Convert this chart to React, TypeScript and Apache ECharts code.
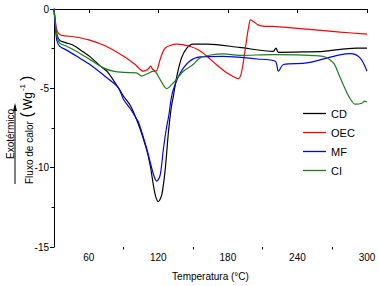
import React, { useEffect, useRef } from "react";
import * as echarts from "echarts";

const seriesNames = ["CD", "OEC", "MF", "CI"];
const seriesColors = ["#000000", "#ff0000", "#0000ff", "#1a7f1a"];

const cdData: [number, number][] = [
  [30, 0], [31, -0.8], [32.5, -1.6], [35, -1.98], [40, -2.12], [47, -2.3], [55, -2.7], [61, -3.0],
  [70, -3.6], [76, -3.95], [84, -4.8], [90, -5.5], [96, -6.1], [104, -7.5], [110, -8.9], [113, -9.86],
  [117, -11.6], [120, -12.14], [123, -11.7], [126, -10.06], [128.7, -7.77], [131, -6.3], [133, -5.48],
  [136, -4.23], [140, -3.08], [144.6, -2.46], [150, -2.21], [162, -2.21], [190, -2.42], [219, -2.67],
  [221.5, -2.46], [223.5, -2.73], [248, -2.7], [262, -2.67], [291, -2.46], [300, -2.46],
];

const oecData: [number, number][] = [
  [30, 0], [31, -0.6], [32, -1.2], [34, -1.55], [37, -1.67], [47, -1.75], [60, -1.95], [75, -2.35],
  [90, -2.98], [100, -3.5], [107, -3.92], [110, -3.85], [112, -3.72], [113.5, -3.6], [115, -3.8],
  [118, -3.92], [120, -3.6], [121.5, -3.19], [124, -2.7], [126, -2.46], [130, -2.3], [136, -2.21],
  [147, -2.35], [155, -2.6], [162, -2.98], [170, -3.5], [179, -4.02], [187, -4.35], [189, -4.39],
  [191, -4.2], [193, -3.5], [196, -2.0], [198, -1.1], [199.5, -0.69], [202, -0.79], [206, -1.0],
  [210, -1.08], [219, -1.1], [248, -1.27], [277, -1.46], [300, -1.58],
];

const mfData: [number, number][] = [
  [30, 0.05], [31, -1.0], [32.5, -2.0], [35, -2.36], [40, -2.56], [50, -3.0], [61, -3.5], [75, -4.3],
  [85.5, -4.96], [90, -5.7], [96, -6.3], [101, -6.9], [103, -7.15], [110, -8.81], [115.7, -10.4],
  [118.6, -10.85], [121.5, -10.5], [124.4, -8.81], [127, -7.5], [129, -6.73], [131, -5.69], [133, -5.06],
  [139, -4.02], [147, -3.29], [156, -3.02], [176, -2.98], [205, -3.15], [220.8, -3.29], [223.6, -3.92],
  [228, -3.5], [248, -3.4], [285.5, -2.81], [294, -3.08], [300, -3.92],
];

const ciData: [number, number][] = [
  [30, 0], [31, -0.8], [32.5, -1.7], [35, -2.15], [41, -2.35], [50, -2.7], [61, -3.19], [72.6, -3.71],
  [81, -3.92], [90, -4.0], [101, -4.02], [105.7, -4.23], [110, -4.1], [115.7, -3.92], [118, -4.0],
  [122, -4.5], [127.3, -5.02], [133, -4.65], [141.6, -3.92], [150, -3.5], [156, -3.08], [165, -2.9],
  [176, -2.83], [190, -2.92], [219, -2.88], [262, -2.98], [271, -3.4], [275, -4.0], [280, -4.86],
  [285, -5.6], [290, -6.0], [295.6, -5.94], [298, -5.8], [300, -5.86],
];

const xMajorTicks = [60, 120, 180, 240, 300];
const xMinorTicks = [90, 150, 210, 270];

const FONT = "Liberation Sans, Arial, sans-serif";

export default function App() {
  const ref = useRef<HTMLDivElement>(null);
  useEffect(() => {
    const chart = echarts.init(ref.current!, null, { renderer: "svg" });
    const allData = [cdData, oecData, mfData, ciData];
    chart.setOption({
      animation: false,
      backgroundColor: "#ffffff",
      grid: { left: 54, right: 12, top: 9, bottom: 37 },
      legend: {
        orient: "vertical",
        left: 303,
        top: 108,
        padding: 0,
        icon: "rect",
        itemWidth: 23,
        itemHeight: 1.3,
        itemGap: 8,
        textStyle: { fontFamily: FONT, fontSize: 11, color: "#000" },
        data: seriesNames,
      },
      xAxis: [
        {
          type: "value",
          min: 30,
          max: 300,
          name: "Temperatura (°C)",
          nameLocation: "middle",
          nameGap: 24,
          nameTextStyle: { fontFamily: FONT, fontSize: 10, color: "#000" },
          axisLine: { show: true, lineStyle: { color: "#000", width: 1 } },
          axisTick: { show: true, length: 4, customValues: xMajorTicks, lineStyle: { color: "#000" } },
          axisLabel: { customValues: xMajorTicks, fontFamily: FONT, fontSize: 10, color: "#000", margin: 5 },
          splitLine: { show: false },
        },
        {
          type: "value",
          min: 30,
          max: 300,
          position: "bottom",
          axisLine: { show: false },
          axisTick: { show: true, length: 2.5, customValues: xMinorTicks, lineStyle: { color: "#000" } },
          axisLabel: { show: false },
          splitLine: { show: false },
        },
      ],
      yAxis: {
        type: "value",
        min: -15,
        max: 0,
        interval: 5,
        axisLine: { show: true, lineStyle: { color: "#000", width: 1 } },
        axisTick: { show: true, length: 4, lineStyle: { color: "#000" } },
        minorTick: { show: true, splitNumber: 2, length: 2.5, lineStyle: { color: "#000" } },
        axisLabel: { fontFamily: FONT, fontSize: 10, color: "#000", margin: 5 },
        splitLine: { show: false },
      },
      graphic: [
        {
          type: "text",
          x: 10,
          y: 134,
          rotation: Math.PI / 2,
          style: {
            text: "Exotérmico",
            fontFamily: FONT,
            fontSize: 10,
            fill: "#000",
            align: "center",
            verticalAlign: "middle",
          },
        },
        {
          type: "line",
          shape: { x1: 15, y1: 184, x2: 15, y2: 106 },
          style: { stroke: "#000", lineWidth: 1 },
        },
        {
          type: "polygon",
          shape: { points: [[13, 111], [15, 103], [17, 111]] },
          style: { fill: "#000" },
        },
        {
          type: "text",
          x: 26,
          y: 184,
          rotation: Math.PI / 2,
          style: {
            text: "{a|Fluxo de calor }{p|(}{b|Wg}{s|-1}{p|)}",
            align: "left",
            verticalAlign: "middle",
            rich: {
              a: { fontFamily: FONT, fontSize: 10, fill: "#000", lineHeight: 16, verticalAlign: "bottom" },
              p: { fontFamily: FONT, fontSize: 16, fill: "#000", lineHeight: 16, verticalAlign: "bottom", padding: [0, 1, 0, 1] },
              b: { fontFamily: FONT, fontSize: 12, fill: "#000", lineHeight: 16, verticalAlign: "bottom", padding: [0, 1, 0, 1] },
              s: { fontFamily: FONT, fontSize: 8, fill: "#000", lineHeight: 16, verticalAlign: "top", padding: [0, 2, 0, 0] },
            },
          },
        },
      ],
      series: seriesNames.map((name, i) => ({
        name,
        type: "line",
        data: allData[i],
        xAxisIndex: 0,
        symbol: "none",
        smooth: 0.3,
        lineStyle: { color: seriesColors[i], width: 1.2 },
        itemStyle: { color: seriesColors[i] },
      })),
    });
    return () => chart.dispose();
  }, []);
  return <div ref={ref} style={{ position: "fixed", left: 0, top: 0, width: 379, height: 286 }} />;
}
